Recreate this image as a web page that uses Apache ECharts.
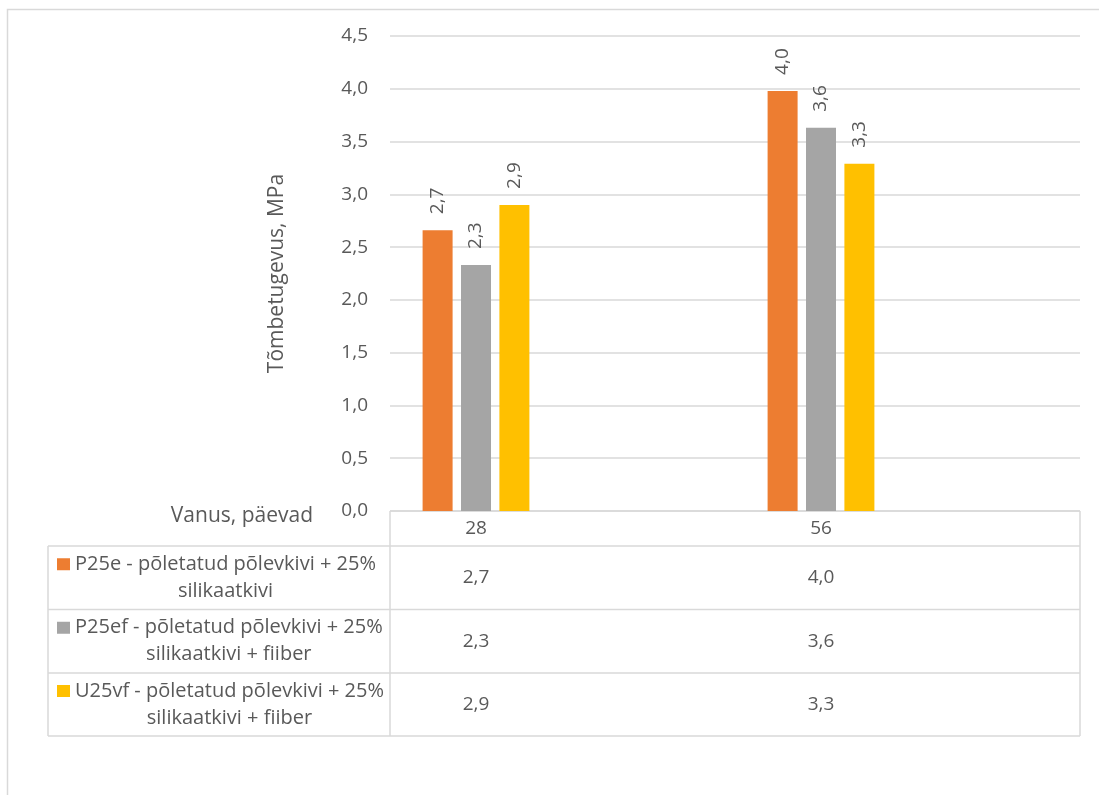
<!DOCTYPE html>
<html>
<head>
<meta charset="utf-8">
<script src="https://cdn.jsdelivr.net/npm/echarts@6/dist/echarts.min.js"></script>
<style>
  html, body { margin: 0; padding: 0; background: #fff; }
  #chart { width: 1099px; height: 795px; }
</style>
</head>
<body>
<div id="chart"></div>
<script>
// Ages (days) on the category axis
const categories = ['28', '56'];

// Mixture names (wrapped as in the data table)
const seriesNames = [
  'P25e - põletatud põlevkivi + 25%\nsilikaatkivi',
  'P25ef - põletatud põlevkivi + 25%\nsilikaatkivi + fiiber',
  'U25vf - põletatud põlevkivi + 25%\nsilikaatkivi + fiiber'
];

// Tensile strength, MPa
const p25e = [2.66, 3.98];
const p25ef = [2.33, 3.63];
const u25vf = [2.90, 3.29];

// Value axis range
const yMin = 0;
const yMax = 4.5;
const yStep = 0.5;

const yTitle = 'Tõmbetugevus, MPa';
const xTitle = 'Vanus, päevad';

const colors = ['#ED7D31', '#A5A5A5', '#FFC000'];
const textColor = '#595959';
const lineColor = '#D9D9D9';
const fontFamily = '"Open Sans", "Noto Sans", sans-serif';
const fs = 19;        // ticks, table values, data labels
const fsLegend = 20;  // series names in the table
const fsTitle = 21;   // axis titles

const values = [p25e, p25ef, u25vf];
const fmt = v => v.toFixed(1).replace('.', ',');

// Layout of the plot and the data table below it
const plotTop = 36, plotBottom = 511;
const gridLeft = 390, gridRight = 1080;
const barLeft = 303.5, barWidthArea = 690;
const tableLeft = 48;
const headerBottom = 546;
const rowEdges = [546, 609.5, 673, 736];

const chart = echarts.init(document.getElementById('chart'), null, { renderer: 'canvas' });

// Measure text for centring the wrapped legend lines under the first line
const measureCtx = document.createElement('canvas').getContext('2d');
measureCtx.font = fsLegend + 'px ' + fontFamily;

const rowLabel = { margin: 0, verticalAlign: 'middle', color: textColor, fontSize: fs, fontFamily };
const xAxes = [
  { gridIndex: 0, type: 'category', data: categories, show: false },
  {
    gridIndex: 1, type: 'category', data: categories, position: 'bottom',
    axisLine: { show: false }, axisTick: { show: false },
    offset: (plotBottom + headerBottom) / 2 - plotBottom,
    axisLabel: rowLabel
  }
];
values.forEach((arr, i) => {
  xAxes.push({
    gridIndex: 1, type: 'category', data: arr.map(fmt), position: 'bottom',
    axisLine: { show: false }, axisTick: { show: false },
    offset: (rowEdges[i] + rowEdges[i + 1]) / 2 - plotBottom,
    axisLabel: rowLabel
  });
});

const graphics = [];
// chart area border
graphics.push({
  type: 'rect', shape: { x: 7.5, y: 9.5, width: 1200, height: 900 },
  style: { fill: 'none', stroke: lineColor, lineWidth: 1.5 }, silent: true
});
// table grid lines
const hLine = (y, x1, x2) => graphics.push({
  type: 'line', shape: { x1, y1: y, x2, y2: y },
  style: { stroke: lineColor, lineWidth: 1.5 }, silent: true
});
const vLine = (x, y1, y2) => graphics.push({
  type: 'line', shape: { x1: x, y1, x2: x, y2 },
  style: { stroke: lineColor, lineWidth: 1.5 }, silent: true
});
hLine(plotBottom, gridLeft, gridRight);
rowEdges.forEach(y => hLine(y, tableLeft, gridRight));
vLine(gridLeft, plotBottom, rowEdges[rowEdges.length - 1]);
vLine(gridRight, plotBottom, rowEdges[rowEdges.length - 1]);
vLine(tableLeft, headerBottom, rowEdges[rowEdges.length - 1]);

// legend keys and wrapped names in the table rows
const textLeft = 75;
const lineH = 27;
seriesNames.forEach((name, i) => {
  const mid = (rowEdges[i] + rowEdges[i + 1]) / 2;
  const lines = name.split('\n');
  const w0 = measureCtx.measureText(lines[0]).width;
  const cx = textLeft + w0 / 2;
  graphics.push({
    type: 'rect', shape: { x: 57, y: mid - lineH / 2 - 6, width: 13, height: 12 },
    style: { fill: colors[i] }, silent: true
  });
  lines.forEach((ln, k) => {
    graphics.push({
      type: 'text', x: cx, y: mid + (k - (lines.length - 1) / 2) * lineH,
      style: { text: ln, fill: textColor, font: fsLegend + 'px ' + fontFamily, align: 'center', verticalAlign: 'middle' },
      silent: true
    });
  });
});
// category axis title
graphics.push({
  type: 'text', x: 313, y: 516,
  style: { text: xTitle, fill: textColor, font: fsTitle + 'px ' + fontFamily, align: 'right', verticalAlign: 'middle' },
  silent: true
});

const option = {
  backgroundColor: '#ffffff',
  animation: false,
  textStyle: { fontFamily },
  grid: [
    { left: gridLeft, width: gridRight - gridLeft, top: plotTop, height: plotBottom - plotTop, outerBoundsMode: 'none' },
    { left: barLeft, width: barWidthArea, top: plotTop, height: plotBottom - plotTop, outerBoundsMode: 'none' }
  ],
  xAxis: xAxes,
  yAxis: [
    {
      gridIndex: 0, type: 'value', min: yMin, max: yMax, interval: yStep,
      axisLine: { show: false }, axisTick: { show: false },
      axisLabel: { margin: 22, color: textColor, fontSize: fs, fontFamily, formatter: v => fmt(v) },
      splitLine: { lineStyle: { color: lineColor, width: 1.5 } },
      name: yTitle, nameLocation: 'middle', nameGap: 102,
      nameTextStyle: { color: textColor, fontSize: fsTitle, fontFamily }
    },
    { gridIndex: 1, type: 'value', min: yMin, max: yMax, interval: yStep, show: false }
  ],
  series: values.map((arr, i) => ({
    type: 'bar',
    name: seriesNames[i],
    xAxisIndex: 1, yAxisIndex: 1,
    data: arr,
    barWidth: 30,
    barGap: '28%',
    itemStyle: { color: colors[i] },
    label: {
      show: true, position: 'top', rotate: 90, align: 'left', verticalAlign: 'middle',
      distance: 16, color: textColor, fontSize: fs, fontFamily,
      formatter: p => fmt(p.value)
    }
  })),
  graphic: graphics
};

chart.setOption(option);
</script>
</body>
</html>
